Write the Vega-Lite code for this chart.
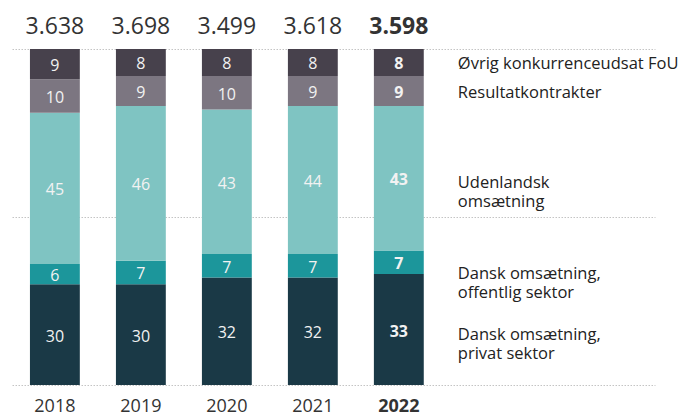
{
  "$schema": "https://vega.github.io/schema/vega-lite/v6.json",
  "width": 643,
  "height": 336,
  "autosize": {"type": "none"},
  "padding": {"left": 12, "top": 49, "right": 30, "bottom": 29},
  "config": {"view": {"stroke": null}, "font": "Open Sans"},
  "datasets": {
    "shares": [
      {"year": "2018", "cat": "Dansk omsætning,\nprivat sektor", "ord": 1, "value": 30},
      {"year": "2018", "cat": "Dansk omsætning,\noffentlig sektor", "ord": 2, "value": 6},
      {"year": "2018", "cat": "Udenlandsk\nomsætning", "ord": 3, "value": 45},
      {"year": "2018", "cat": "Resultatkontrakter", "ord": 4, "value": 10},
      {"year": "2018", "cat": "Øvrig konkurrenceudsat FoU", "ord": 5, "value": 9},
      {"year": "2019", "cat": "Dansk omsætning,\nprivat sektor", "ord": 1, "value": 30},
      {"year": "2019", "cat": "Dansk omsætning,\noffentlig sektor", "ord": 2, "value": 7},
      {"year": "2019", "cat": "Udenlandsk\nomsætning", "ord": 3, "value": 46},
      {"year": "2019", "cat": "Resultatkontrakter", "ord": 4, "value": 9},
      {"year": "2019", "cat": "Øvrig konkurrenceudsat FoU", "ord": 5, "value": 8},
      {"year": "2020", "cat": "Dansk omsætning,\nprivat sektor", "ord": 1, "value": 32},
      {"year": "2020", "cat": "Dansk omsætning,\noffentlig sektor", "ord": 2, "value": 7},
      {"year": "2020", "cat": "Udenlandsk\nomsætning", "ord": 3, "value": 43},
      {"year": "2020", "cat": "Resultatkontrakter", "ord": 4, "value": 10},
      {"year": "2020", "cat": "Øvrig konkurrenceudsat FoU", "ord": 5, "value": 8},
      {"year": "2021", "cat": "Dansk omsætning,\nprivat sektor", "ord": 1, "value": 32},
      {"year": "2021", "cat": "Dansk omsætning,\noffentlig sektor", "ord": 2, "value": 7},
      {"year": "2021", "cat": "Udenlandsk\nomsætning", "ord": 3, "value": 44},
      {"year": "2021", "cat": "Resultatkontrakter", "ord": 4, "value": 9},
      {"year": "2021", "cat": "Øvrig konkurrenceudsat FoU", "ord": 5, "value": 8},
      {"year": "2022", "cat": "Dansk omsætning,\nprivat sektor", "ord": 1, "value": 33},
      {"year": "2022", "cat": "Dansk omsætning,\noffentlig sektor", "ord": 2, "value": 7},
      {"year": "2022", "cat": "Udenlandsk\nomsætning", "ord": 3, "value": 43},
      {"year": "2022", "cat": "Resultatkontrakter", "ord": 4, "value": 9},
      {"year": "2022", "cat": "Øvrig konkurrenceudsat FoU", "ord": 5, "value": 8}
    ],
    "totals": [
      {"year": "2018", "total": "3.638"},
      {"year": "2019", "total": "3.698"},
      {"year": "2020", "total": "3.499"},
      {"year": "2021", "total": "3.618"},
      {"year": "2022", "total": "3.598"}
    ]
  },
  "layer": [
    {
      "data": {"name": "shares"},
      "mark": {"type": "bar"},
      "encoding": {
        "x": {
          "field": "year", "type": "nominal", "sort": null,
          "scale": {"domain": ["2018", "2019", "2020", "2021", "2022", ""], "paddingInner": 0.42, "paddingOuter": 0.949, "align": 0.11},
          "axis": {
            "title": null, "domain": false, "ticks": false, "labelAngle": 0,
            "labelFontSize": 18, "labelColor": "#333333", "labelPadding": 26,
            "labelBaseline": "alphabetic",
            "labelFontWeight": {"condition": {"test": "datum.value == '2022'", "value": "bold"}, "value": "normal"}
          }
        },
        "y": {
          "field": "value", "type": "quantitative", "stack": "zero",
          "scale": {"domain": [0, 100], "nice": false},
          "axis": {
            "title": null, "domain": false, "ticks": false, "labels": false,
            "values": [0, 50, 100], "grid": true, "gridColor": "#c4c4c4",
            "gridDash": [1.5, 1.5], "gridWidth": 1
          }
        },
        "color": {
          "field": "cat", "type": "nominal", "legend": null,
          "scale": {
            "domain": ["Dansk omsætning,\nprivat sektor", "Dansk omsætning,\noffentlig sektor", "Udenlandsk\nomsætning", "Resultatkontrakter", "Øvrig konkurrenceudsat FoU"],
            "range": ["#1a3946", "#1c969b", "#7fc4c2", "#7c7681", "#47414c"]
          }
        },
        "order": {"field": "ord", "type": "quantitative", "sort": "ascending"}
      }
    },
    {
      "data": {"name": "shares"},
      "transform": [
        {"stack": "value", "groupby": ["year"], "sort": [{"field": "ord", "order": "ascending"}], "as": ["y0", "y1"]},
        {"calculate": "(datum.y0 + datum.y1) / 2", "as": "mid"},
        {"filter": "datum.year != '2022'"}
      ],
      "mark": {"type": "text", "fontSize": 16, "color": "#f2f2f2", "baseline": "middle", "dy": 2},
      "encoding": {
        "x": {"field": "year", "type": "nominal", "sort": null, "title": null},
        "y": {"field": "mid", "type": "quantitative", "title": null},
        "text": {"field": "value", "type": "quantitative"}
      }
    },
    {
      "data": {"name": "shares"},
      "transform": [
        {"stack": "value", "groupby": ["year"], "sort": [{"field": "ord", "order": "ascending"}], "as": ["y0", "y1"]},
        {"calculate": "(datum.y0 + datum.y1) / 2", "as": "mid"},
        {"filter": "datum.year == '2022'"}
      ],
      "mark": {"type": "text", "fontSize": 16, "fontWeight": "bold", "color": "#f2f2f2", "baseline": "middle", "dy": 2},
      "encoding": {
        "x": {"field": "year", "type": "nominal", "sort": null, "title": null},
        "y": {"field": "mid", "type": "quantitative", "title": null},
        "text": {"field": "value", "type": "quantitative"}
      }
    },
    {
      "data": {"name": "totals"},
      "transform": [{"filter": "datum.year != '2022'"}],
      "mark": {"type": "text", "fontSize": 23, "color": "#333333", "baseline": "alphabetic", "dy": -15},
      "encoding": {
        "x": {"field": "year", "type": "nominal", "sort": null, "title": null},
        "y": {"datum": 100, "title": null},
        "text": {"field": "total", "type": "nominal"}
      }
    },
    {
      "data": {"name": "totals"},
      "transform": [{"filter": "datum.year == '2022'"}],
      "mark": {"type": "text", "fontSize": 23, "fontWeight": "bold", "color": "#333333", "baseline": "alphabetic", "dy": -15},
      "encoding": {
        "x": {"field": "year", "type": "nominal", "sort": null, "title": null},
        "y": {"datum": 100, "title": null},
        "text": {"field": "total", "type": "nominal"}
      }
    },
    {
      "data": {"name": "shares"},
      "transform": [
        {"stack": "value", "groupby": ["year"], "sort": [{"field": "ord", "order": "ascending"}], "as": ["y0", "y1"]},
        {"calculate": "(datum.y0 + datum.y1) / 2", "as": "mid"},
        {"filter": "datum.year == '2022' && datum.ord >= 4"}
      ],
      "mark": {"type": "text", "fontSize": 16.5, "color": "#222222", "align": "left", "baseline": "middle", "dx": 59, "dy": 1.5, "lineBreak": "\n", "lineHeight": 19},
      "encoding": {
        "x": {"field": "year", "type": "nominal", "sort": null, "title": null},
        "y": {"field": "mid", "type": "quantitative", "title": null},
        "text": {"field": "cat", "type": "nominal"}
      }
    },
    {
      "data": {"name": "shares"},
      "transform": [
        {"stack": "value", "groupby": ["year"], "sort": [{"field": "ord", "order": "ascending"}], "as": ["y0", "y1"]},
        {"calculate": "(datum.y0 + datum.y1) / 2", "as": "mid"},
        {"filter": "datum.year == '2022' && (datum.ord == 1 || datum.ord == 3)"}
      ],
      "mark": {"type": "text", "fontSize": 16.5, "color": "#222222", "align": "left", "baseline": "middle", "dx": 59, "dy": 5, "lineBreak": "\n", "lineHeight": 19},
      "encoding": {
        "x": {"field": "year", "type": "nominal", "sort": null, "title": null},
        "y": {"field": "mid", "type": "quantitative", "title": null},
        "text": {"field": "cat", "type": "nominal"}
      }
    },
    {
      "data": {"name": "shares"},
      "transform": [
        {"stack": "value", "groupby": ["year"], "sort": [{"field": "ord", "order": "ascending"}], "as": ["y0", "y1"]},
        {"calculate": "(datum.y0 + datum.y1) / 2", "as": "mid"},
        {"filter": "datum.year == '2022' && datum.ord == 2"}
      ],
      "mark": {"type": "text", "fontSize": 16.5, "color": "#222222", "align": "left", "baseline": "middle", "dx": 59, "dy": 11.5, "lineBreak": "\n", "lineHeight": 19},
      "encoding": {
        "x": {"field": "year", "type": "nominal", "sort": null, "title": null},
        "y": {"field": "mid", "type": "quantitative", "title": null},
        "text": {"field": "cat", "type": "nominal"}
      }
    }
  ]
}
